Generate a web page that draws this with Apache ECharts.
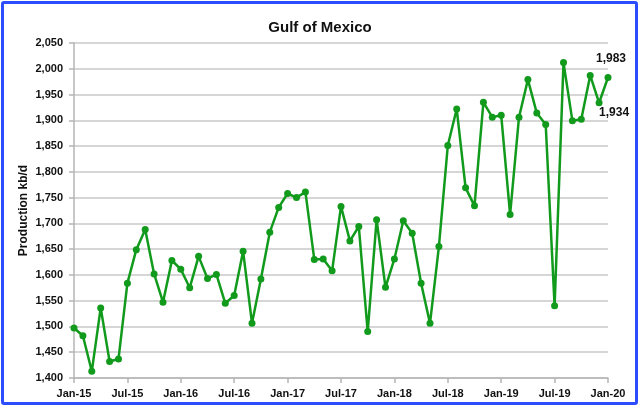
<!DOCTYPE html>
<html>
<head>
<meta charset="utf-8">
<script src="https://cdn.jsdelivr.net/npm/echarts@6/dist/echarts.min.js"></script>
<style>
html,body{margin:0;padding:0;background:#fff;}
#frame{position:absolute;left:1px;top:1px;width:631px;height:398px;border:3px solid #2b4cff;border-radius:3px;}
#chart{position:absolute;left:0;top:0;width:640px;height:409px;}
</style>
</head>
<body>
<div id="frame"></div>
<div id="chart"></div>
<script>
const title = 'Gulf of Mexico';
const yName = 'Production kb/d';
const months = ['Jan','Feb','Mar','Apr','May','Jun','Jul','Aug','Sep','Oct','Nov','Dec'];
const years = ['15','16','17','18','19','20'];
const categories = [];
years.forEach(y => months.forEach(m => categories.push(m + '-' + y)));
categories.length = 61; // Jan-15 .. Jan-20

const production = [
  1497, 1482, 1413, 1536, 1432, 1437, 1584, 1649, 1688, 1602, 1547, 1628,
  1611, 1575, 1636, 1593, 1601, 1545, 1560, 1646, 1506, 1592, 1683, 1731,
  1758, 1750, 1761, 1630, 1631, 1608, 1733, 1666, 1694, 1490, 1707, 1576,
  1631, 1705, 1681, 1584, 1506, 1655, 1851, 1922, 1769, 1734, 1935, 1906,
  1910, 1717, 1906, 1979, 1914, 1892, 1540, 2012, 1899, 1902, 1987, 1934,
  1983
];
const yMin = 1400, yMax = 2050, yStep = 50;

const fmt = v => v.toLocaleString('en-US');
const seriesData = production.map((v, i) => {
  if (i === production.length - 1) {
    return {value: v, label: {show: true, position: 'inside', offset: [3, -19], formatter: p => fmt(p.value)}};
  }
  if (i === production.length - 2) {
    return {value: v, label: {show: true, position: 'inside', offset: [15, 10], formatter: p => fmt(p.value)}};
  }
  return v;
});

const chart = echarts.init(document.getElementById('chart'), null, {renderer: 'canvas'});
const font = 'Liberation Sans, Arial, sans-serif';
chart.setOption({
  animation: false,
  title: {
    text: title, left: 'center', top: 15,
    textStyle: {fontFamily: font, fontSize: 15, fontWeight: 'bold', color: '#111'}
  },
  grid: {left: 74, right: 32, top: 43, bottom: 31, containLabel: false},
  xAxis: {
    type: 'category', data: categories, boundaryGap: false,
    axisLine: {lineStyle: {color: '#b5b5b5', width: 1.5}},
    axisTick: {show: true, interval: 5, length: 5, lineStyle: {color: '#b5b5b5', width: 1.5}},
    axisLabel: {interval: 5, margin: 10, fontFamily: font, fontSize: 11, fontWeight: 'bold', color: '#111'},
    splitLine: {show: false}
  },
  yAxis: {
    type: 'value', min: yMin, max: yMax, interval: yStep,
    name: yName, nameLocation: 'middle', nameGap: 44, nameRotate: 90, nameMoveOverlap: false,
    nameTextStyle: {fontFamily: font, fontSize: 12, fontWeight: 'bold', color: '#111'},
    axisLine: {show: true, lineStyle: {color: '#b5b5b5', width: 1.5}},
    axisTick: {show: true, length: 5, lineStyle: {color: '#b5b5b5', width: 1.5}},
    axisLabel: {margin: 11, formatter: fmt, fontFamily: font, fontSize: 11, fontWeight: 'bold', color: '#111'},
    splitLine: {show: true, lineStyle: {color: '#c8c8c8', width: 1.5}}
  },
  series: [{
    type: 'line', data: seriesData,
    symbol: 'circle', symbolSize: 7, showAllSymbol: true,
    lineStyle: {color: '#119a1c', width: 2.5},
    itemStyle: {color: '#119a1c'},
    label: {fontFamily: font, fontSize: 12, fontWeight: 'bold', color: '#111'}
  }]
});
</script>
</body>
</html>
